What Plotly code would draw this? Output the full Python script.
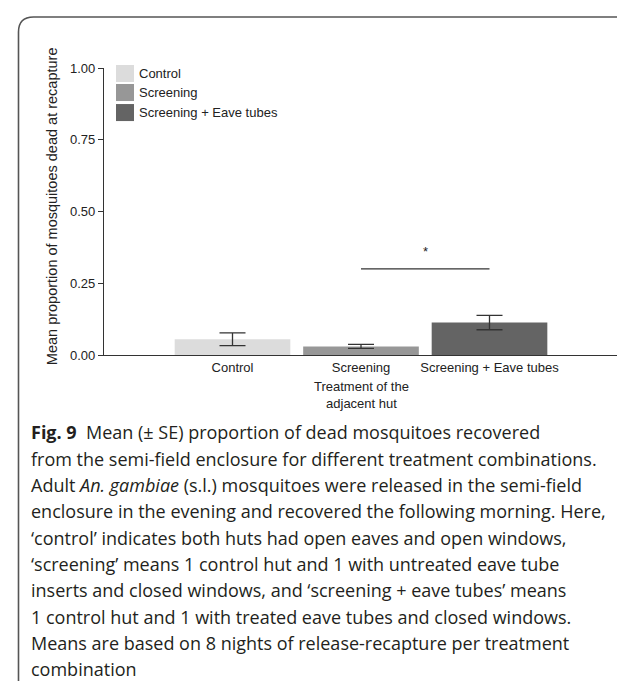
import plotly.graph_objects as go

# ---- data ----
categories = ["Control", "Screening", "Screening + Eave tubes"]
means = [0.055, 0.030, 0.113]
se = [0.022, 0.007, 0.025]
colors = ["#dcdcdc", "#979797", "#646464"]
y_ticks = [0, 0.25, 0.5, 0.75, 1.0]
y_ticklabels = ["0.00", "0.25", "0.50", "0.75", "1.00"]
sig_pair = [1, 2]
sig_level = 0.30
sig_label = "*"

caption_lines = [
    "<b>Fig. 9</b>  Mean (± SE) proportion of dead mosquitoes recovered",
    "from the semi-field enclosure for different treatment combinations.",
    "Adult <i>An. gambiae</i> (s.l.) mosquitoes were released in the semi-field",
    "enclosure in the evening and recovered the following morning. Here,",
    "‘control’ indicates both huts had open eaves and open windows,",
    "‘screening’ means 1 control hut and 1 with untreated eave tube",
    "inserts and closed windows, and ‘screening + eave tubes’ means",
    "1 control hut and 1 with treated eave tubes and closed windows.",
    "Means are based on 8 nights of release-recapture per treatment",
    "combination",
]

W, H = 625, 681
L, R, T, B = 96, 610, 60, 346.7


def px(xp):
    return (xp - L) / (R - L)


def py(yp):
    return (B - yp) / (B - T)


fig = go.Figure()
xs = list(range(len(categories)))
for i, c in enumerate(categories):
    fig.add_trace(go.Bar(
        x=[xs[i]], y=[means[i]], width=0.9,
        marker=dict(color=colors[i], line=dict(width=0)),
        error_y=dict(type="data", array=[se[i]], visible=True,
                     color="#333333", thickness=1.3, width=13),
        name=c, showlegend=False,
    ))

fig.add_trace(go.Scatter(
    x=sig_pair, y=[sig_level, sig_level], mode="lines",
    line=dict(color="#333333", width=1.2), showlegend=False, hoverinfo="skip",
))

font_chart = "Liberation Sans, Arial, sans-serif"
annotations = []
annotations.append(dict(
    x=sum(sig_pair) / 2, y=sig_level + 0.062, xref="x", yref="y",
    text=sig_label, showarrow=False, font=dict(family=font_chart, size=13, color="#222"),
))

# y axis title
annotations.append(dict(
    x=px(44), y=py(198), xref="paper", yref="paper", textangle=-90,
    xanchor="center", yanchor="middle",
    text="Mean proportion of mosquitoes dead at recapture", showarrow=False,
    font=dict(family=font_chart, size=14.5, color="#222"),
))
# x axis title
annotations.append(dict(
    x=0.5, y=py(386.5), xref="paper", yref="paper", xanchor="center", yanchor="middle",
    text="Treatment of the<br>adjacent hut", showarrow=False,
    font=dict(family=font_chart, size=13, color="#222"),
))

# manual legend
shapes = []
leg_rows = [65.5, 84.5, 104.5]
for i, c in enumerate(categories):
    yc = leg_rows[i]
    shapes.append(dict(type="rect", xref="paper", yref="paper",
                       x0=px(108), x1=px(126), y0=py(yc - 8.5), y1=py(yc + 8.5),
                       fillcolor=colors[i], line=dict(width=0)))
    annotations.append(dict(x=px(128.5), y=py(yc), xref="paper", yref="paper",
                            xanchor="left", yanchor="middle", text=c, showarrow=False,
                            font=dict(family=font_chart, size=13, color="#222")))

# caption lines
cap_y0, cap_dy = 424, 26.3
for k, line in enumerate(caption_lines):
    annotations.append(dict(x=px(22), y=py(cap_y0 + k * cap_dy), xref="paper", yref="paper",
                            xanchor="left", yanchor="middle", text=line, showarrow=False,
                            borderpad=0,
                            font=dict(family="Open Sans, sans-serif", size=18, color="#231f20")))

# rounded border (top-left)
x_l, y_t, r = 10.5, 9, 15
path = (f"M {px(x_l)},{py(H + 2)} L {px(x_l)},{py(y_t + r)} "
        f"Q {px(x_l)},{py(y_t)} {px(x_l + r)},{py(y_t)} L {px(W + 5)},{py(y_t)}")
shapes.append(dict(type="path", xref="paper", yref="paper", path=path,
                   line=dict(color="#555555", width=1.6)))

fig.update_layout(
    width=W, height=H,
    margin=dict(l=L, r=W - R, t=T, b=H - B, autoexpand=False),
    paper_bgcolor="white", plot_bgcolor="white",
    showlegend=False,
    annotations=annotations, shapes=shapes,
    xaxis=dict(range=[-1, 3], tickvals=xs, ticktext=categories, showline=True,
               linecolor="#333333", linewidth=1.2, ticks="", showgrid=False, zeroline=False,
               tickfont=dict(family=font_chart, size=13, color="#222")),
    yaxis=dict(range=[0, 1], tickvals=y_ticks, ticktext=y_ticklabels, showline=True,
               linecolor="#333333", linewidth=1.2, ticks="outside", ticklen=5,
               tickcolor="#333333", showgrid=False, zeroline=False,
               tickfont=dict(family=font_chart, size=13, color="#222")),
    bargap=0.1,
)

fig.write_html("out.html")
